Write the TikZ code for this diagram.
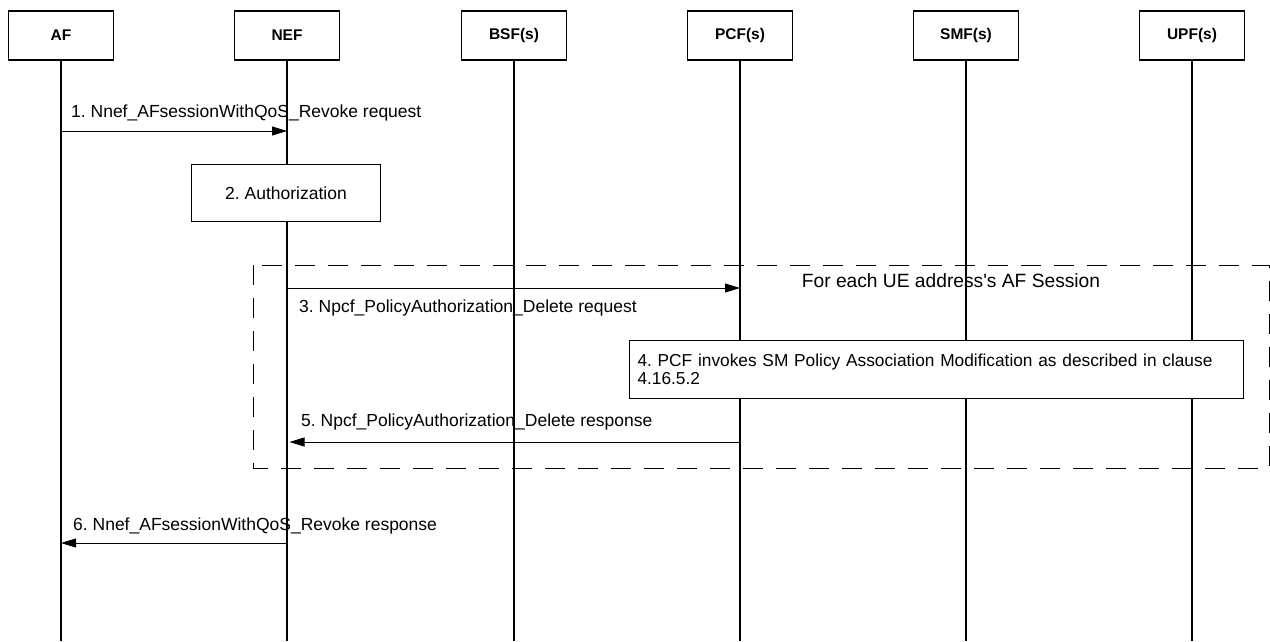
\documentclass[tikz,border=0pt]{standalone}
\usepackage{fontspec}
\setmainfont{Liberation Sans}
\usetikzlibrary{arrows.meta}
\frenchspacing
\begin{document}
\begin{tikzpicture}[x=1pt,y=-1pt,
  actor/.style={draw,line width=1.3pt,minimum width=105pt,minimum height=49pt,
    font=\bfseries\fontsize{15.5}{18}\selectfont,fill=white,inner sep=0pt},
  life/.style={line width=1.5pt},
  msg/.style={line width=0.8pt,-{Triangle[length=15pt,width=9pt]}},
  lbl/.style={font=\fontsize{17.5}{17.7}\selectfont,anchor=west,inner sep=0pt},
  proc/.style={draw,line width=1pt,fill=white,inner sep=0pt},
  frame/.style={line width=1pt,dash pattern=on 20pt off 13pt}]
\useasboundingbox (0,0) rectangle (1270,641);

% loop frame
\draw[frame] (253,265) rectangle (1269,468);
\node[font=\fontsize{19.2}{20}\selectfont,inner sep=0pt] (loop) at (951,281) {For each UE address\textquotesingle s AF Session};

% actors
\node[actor] (AF)  at (61,35.5)   {AF};
\node[actor] (NEF) at (287,35.5)  {NEF};
\node[actor] (BSF) at (514,35.5)  {BSF(s)};
\node[actor] (PCF) at (740,35.5)  {PCF(s)};
\node[actor] (SMF) at (966,35.5)  {SMF(s)};
\node[actor] (UPF) at (1192,35.5) {UPF(s)};

% lifelines
\foreach \n in {AF,NEF,BSF,PCF,SMF,UPF}
  \draw[life] (\n.south) -- (\n.south |- 0,641);

% process boxes
\node[proc,minimum width=188.6pt,minimum height=57.4pt,font=\fontsize{17.5}{17.7}\selectfont] (auth) at (286,193) {2. Authorization};
\node[proc,minimum width=614pt,minimum height=58pt,text width=597pt,inner xsep=8.5pt,align=left,
  font=\fontsize{17.3}{17.7}\selectfont] (modif) at (936,369)
  {4. PCF invokes SM Policy Association Modification as described in clause\\4.16.5.2};

% messages
\draw[msg] (AF |- 0,131) -- (NEF |- 0,131);
\node[lbl] (l1) at (71,112.7) {1. Nnef\_AFsessionWithQoS\_Revoke request};

\draw[msg] (NEF |- 0,288) -- (PCF |- 0,288);
\node[lbl] (l3) at (299,308) {3. Npcf\_PolicyAuthorization\_Delete request};

\draw[msg,shorten >=2.5pt] (PCF |- 0,442) -- (NEF |- 0,442);
\node[lbl] (l5) at (301,422) {5. Npcf\_PolicyAuthorization\_Delete response};

\draw[msg] (NEF |- 0,543) -- (AF |- 0,543);
\node[lbl] (l6) at (73,525.7) {6. Nnef\_AFsessionWithQoS\_Revoke response};
\end{tikzpicture}
\end{document}
